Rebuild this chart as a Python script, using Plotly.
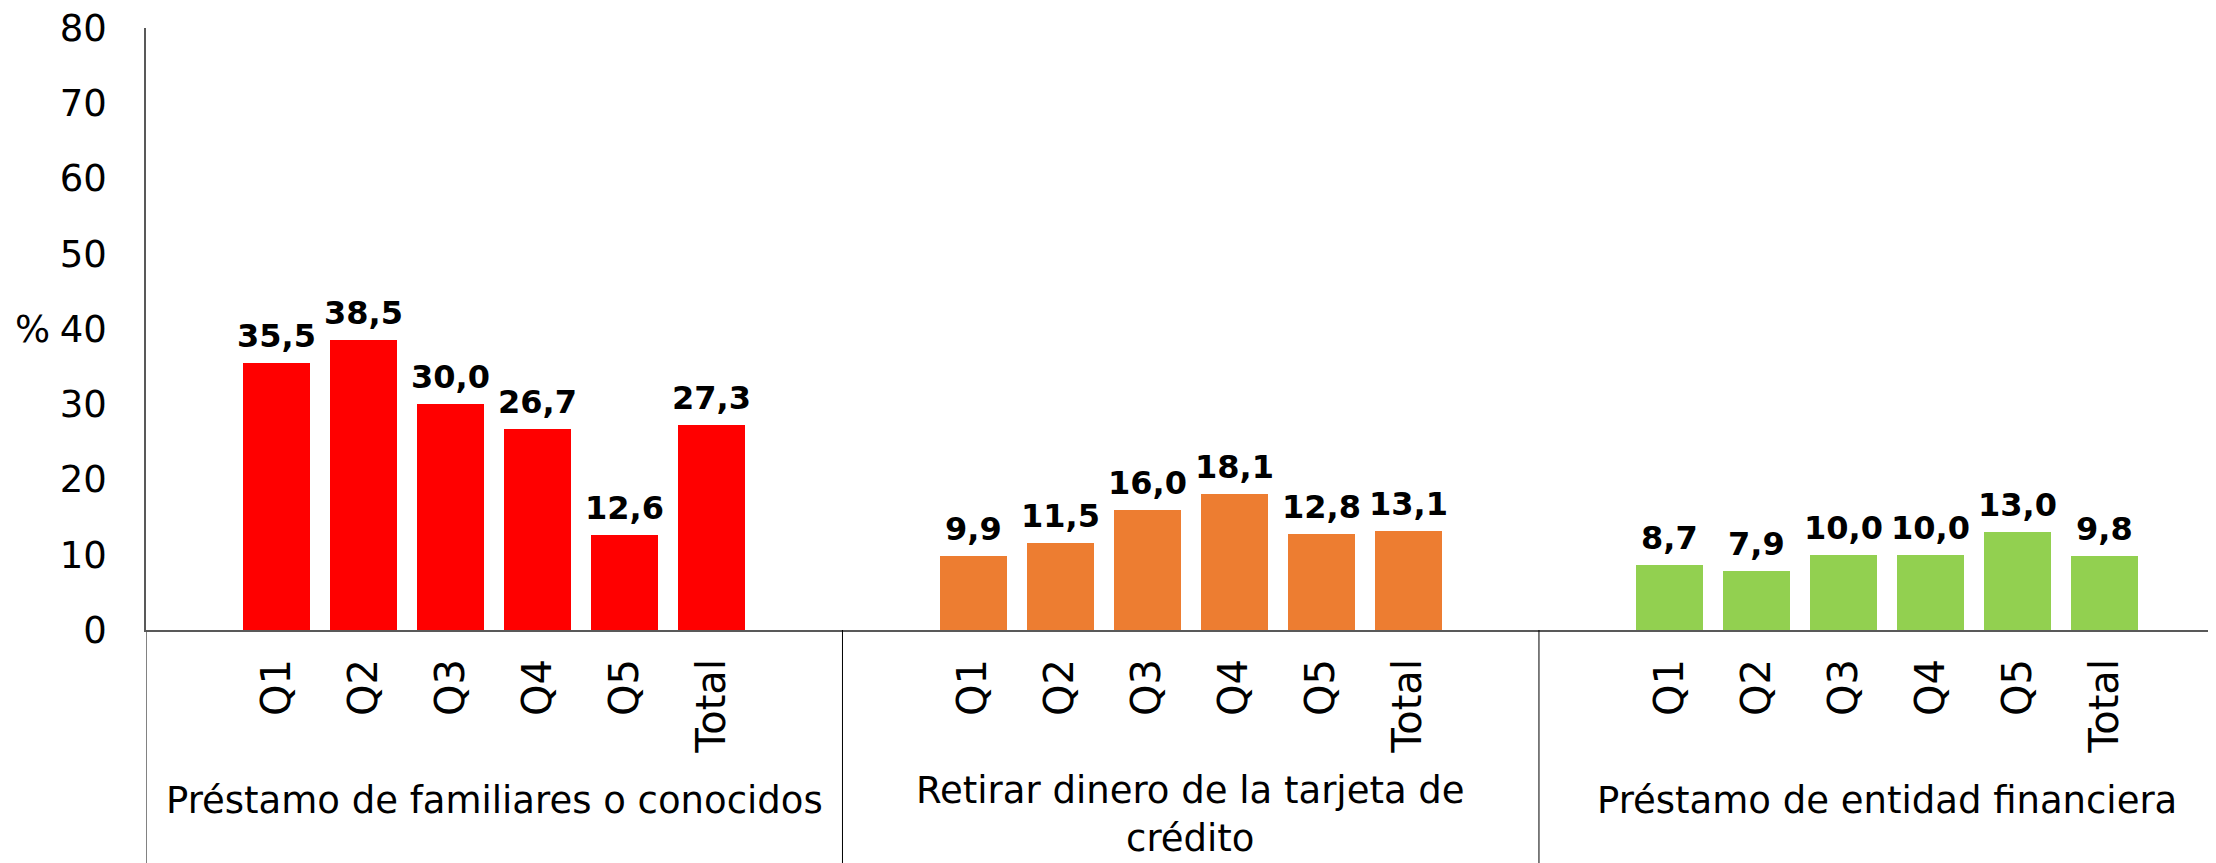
import plotly.graph_objects as go

# ---- data ----
groups = ["Préstamo de familiares o conocidos",
          "Retirar dinero de la tarjeta de<br>crédito",
          "Préstamo de entidad financiera"]
quintiles = ["Q1", "Q2", "Q3", "Q4", "Q5", "Total"]
vals_familiares = [35.5, 38.5, 30.0, 26.7, 12.6, 27.3]
vals_tarjeta = [9.9, 11.5, 16.0, 18.1, 12.8, 13.1]
vals_entidad = [8.7, 7.9, 10.0, 10.0, 13.0, 9.8]
colors = ["#FF0000", "#ED7D31", "#92D050"]
y_ticks = [0, 10, 20, 30, 40, 50, 60, 70, 80]

series = [vals_familiares, vals_tarjeta, vals_entidad]

FONT = "DejaVu Sans, Verdana, sans-serif"
SLOTS = 8  # slots per group (1 empty each side)
OFF = 8    # page body margin
W, H = 2216 - OFF, 863 - OFF
ML, MT, MB = 146 - OFF, 28 - OFF, 233
plot_h = H - MT - MB
axis_px = H - MB  # figure pixel of zero line


def paper_y(window_px):
    return (axis_px - (window_px - OFF)) / plot_h


fig = go.Figure()
tickvals, ticktext = [], []
annotations = []
for g, (vals, col) in enumerate(zip(series, colors)):
    xs = [g * SLOTS + 1 + i for i in range(len(quintiles))]
    tickvals += xs
    ticktext += quintiles
    fig.add_trace(go.Bar(x=xs, y=vals, width=0.77, marker_color=col,
                         marker_line_width=0, showlegend=False))
    for x, v in zip(xs, vals):
        annotations.append(dict(x=x, y=v, xref="x", yref="y",
                                text=f"<b>{v:.1f}</b>".replace(".", ","),
                                showarrow=False, yanchor="bottom", yshift=6,
                                font=dict(family=FONT, size=32, color="black")))
    multi = "<br>" in groups[g]
    annotations.append(dict(x=g * SLOTS + 3.5,
                            y=paper_y(862) if multi else paper_y(800),
                            xref="x", yref="paper", text=groups[g],
                            showarrow=False,
                            yanchor="bottom" if multi else "middle",
                            xanchor="center", align="center",
                            font=dict(family=FONT, size=37, color="black")))

annotations.append(dict(x=-(ML - 5) / (W - ML), y=40, xref="paper", yref="y",
                        text="%", showarrow=False, xanchor="left", yanchor="middle",
                        font=dict(family=FONT, size=37, color="black")))

shapes = []
bottom = -(MB) / plot_h
for xb in [-0.5, SLOTS - 0.5, 2 * SLOTS - 0.5]:
    shapes.append(dict(type="line", xref="x", yref="paper", x0=xb, x1=xb,
                       y0=bottom, y1=0,
                       line=dict(color="#595959" if xb < 0 else "black",
                                 width=1.5 if xb < 0 else 1)))

x_right = -0.5 + (W - ML) / 87.06
fig.update_layout(
    width=W, height=H,
    margin=dict(l=ML, r=0, t=MT, b=MB, autoexpand=False),
    plot_bgcolor="white", paper_bgcolor="white",
    font=dict(family=FONT, size=37, color="black"),
    bargap=0,
    xaxis=dict(range=[-0.5, x_right], tickmode="array", tickvals=tickvals,
               ticktext=ticktext, tickangle=-90, ticks="", showgrid=False,
               zeroline=False, showline=True, linecolor="#595959", linewidth=2,
               ticklabelstandoff=11,
               tickfont=dict(family=FONT, size=40, color="black")),
    yaxis=dict(range=[0, 80], tickmode="array", tickvals=y_ticks, ticks="",
               showgrid=False, zeroline=False, showline=True,
               linecolor="#595959", linewidth=1.5, ticklabelstandoff=30,
               ticklabeloverflow="allow",
               tickfont=dict(family=FONT, size=37, color="black")),
    annotations=annotations,
    shapes=shapes,
)

fig.write_html("out.html")
